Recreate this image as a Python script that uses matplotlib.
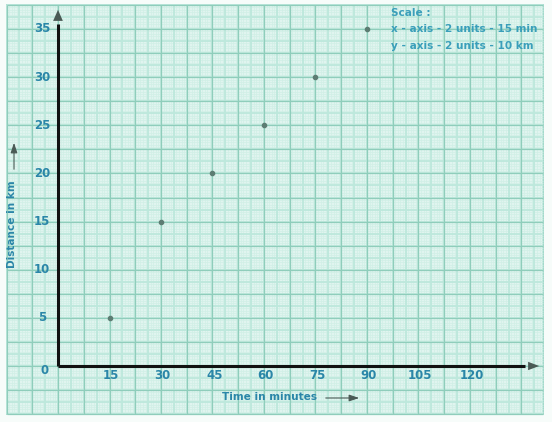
import numpy as np
import matplotlib.pyplot as plt
from matplotlib.patches import Rectangle

# data
time_min = [15, 30, 45, 60, 75, 90]
distance_km = [5, 15, 20, 25, 30, 35]
x_ticks = [15, 30, 45, 60, 75, 90, 105, 120]
y_ticks = [0, 5, 10, 15, 20, 25, 30, 35]
x_title = "Time in minutes"
y_title = "Distance in km"
scale_lines = ["Scale :", "x - axis - 2 units - 15 min", "y - axis - 2 units - 10 km"]

W, H = 552, 422
fig = plt.figure(figsize=(W / 100, H / 100), dpi=100)
fig.patch.set_facecolor("#f7fcfa")
ax = fig.add_axes([0, 0, 1, 1])
ax.set_axis_off()

# pixel mapping (origin at px 58, 366)
ppx = 309 / 90.0
ppy = 337 / 35.0
x0 = -58 / ppx
x1 = (W - 58) / ppx
y0 = -(H - 366) / ppy
y1 = 366 / ppy
ax.set_xlim(x0, x1)
ax.set_ylim(y0, y1)

# graph paper
px_l, px_r = -15, (543 - 58) / ppx
py_b, py_t = -5, 37.5
ax.add_patch(Rectangle((px_l, py_b), px_r - px_l, py_t - py_b,
                       facecolor="#e0f4ef", edgecolor="#93d3c2", lw=1.2, zorder=0))

def vlines(step, color, lw, z):
    xs = np.arange(px_l, px_r + 1e-6, step)
    ax.vlines(xs, py_b, py_t, colors=color, lw=lw, zorder=z)

def hlines(step, color, lw, z):
    ys = np.arange(py_b, py_t + 1e-6, step)
    ax.hlines(ys, px_l, px_r, colors=color, lw=lw, zorder=z)

vlines(0.75, "#d0efe6", 0.5, 1)
hlines(0.25, "#d0efe6", 0.5, 1)
vlines(3.75, "#bde8dc", 1.3, 2)
hlines(1.25, "#bde8dc", 1.3, 2)
vlines(7.5, "#8fcdbb", 0.9, 3)
hlines(2.5, "#8fcdbb", 0.9, 3)

# axes lines
ax.plot([0, 0], [0, 35.5], color="#111111", lw=2.2, zorder=5, solid_capstyle="butt")
ax.plot([0, 136], [0, 0], color="#111111", lw=2.2, zorder=5, solid_capstyle="butt")
ax.annotate("", xy=(0, (366 - 7) / ppy), xytext=(0, 35.3),
            arrowprops=dict(arrowstyle="-|>,head_length=0.8,head_width=0.35",
                            color="#4a5a55", lw=0), zorder=6)
ax.annotate("", xy=((542 - 58) / ppx, 0), xytext=(134, 0),
            arrowprops=dict(arrowstyle="-|>,head_length=0.8,head_width=0.3",
                            color="#4a5a55", lw=0), zorder=6)

# points
ax.scatter(time_min, distance_km, s=9, color="#5d7d73", zorder=7)

tick_col = "#2a86a8"
font = dict(family="DejaVu Sans", fontweight="bold")
for t in x_ticks:
    ax.text(t + 0.5, -0.95, str(t), ha="center", va="center", fontsize=8.5,
            color=tick_col, zorder=8, **font)
for t in y_ticks:
    if t == 0:
        ax.text(-3.8, -0.5, "0", ha="center", va="center", fontsize=8.5,
                color=tick_col, zorder=8, **font)
    else:
        ax.text(-4.6, t, str(t), ha="center", va="center", fontsize=8.5,
                color=tick_col, zorder=8, **font)

# axis titles
ax.text((222 - 58) / ppx, -(397 - 366) / ppy, x_title, ha="left", va="center",
        fontsize=7.6, color=tick_col, zorder=8, **font)
ax.annotate("", xy=((362 - 58) / ppx, -(398 - 366) / ppy),
            xytext=((323 - 58) / ppx, -(398 - 366) / ppy),
            arrowprops=dict(arrowstyle="-|>,head_length=0.6,head_width=0.2",
                            color="#4a5a55", lw=0.8), zorder=8)
ax.text(-(58 - 12) / ppx, (366 - 224) / ppy, y_title, ha="center", va="center",
        rotation=90, fontsize=7.6, color=tick_col, zorder=8, **font)
ax.annotate("", xy=(-(58 - 14) / ppx, (366 - 140) / ppy),
            xytext=(-(58 - 14) / ppx, (366 - 172) / ppy),
            arrowprops=dict(arrowstyle="-|>,head_length=0.6,head_width=0.2",
                            color="#4a5a55", lw=0.8), zorder=8)

# scale note
for i, s in enumerate(scale_lines):
    ax.text((391 - 58) / ppx, (366 - (13 + 16.5 * i)) / ppy, s, ha="left", va="center",
            fontsize=7.6, color="#3a9fba", zorder=8, **font)

fig.savefig("out.png", dpi=100, facecolor=fig.get_facecolor())
